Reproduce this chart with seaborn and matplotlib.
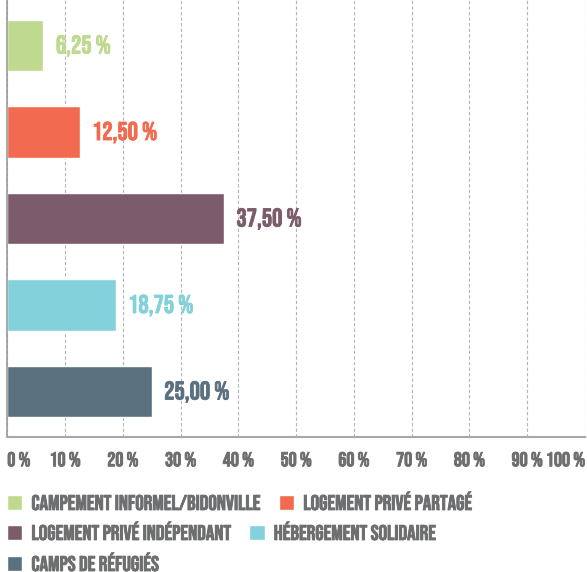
import seaborn as sns
import matplotlib.pyplot as plt
import matplotlib.patheffects as pe
from matplotlib.patches import Patch

categories = ['CAMPEMENT INFORMEL/BIDONVILLE', 'LOGEMENT PRIVÉ PARTAGÉ',
              'LOGEMENT PRIVÉ INDÉPENDANT', 'HÉBERGEMENT SOLIDAIRE',
              'CAMPS DE RÉFUGIÉS']
values = [6.25, 12.50, 37.50, 18.75, 25.00]
colors = ['#bfd98f', '#f26a4f', '#7c5c6b', '#82d1db', '#5b7180']
ticks = list(range(0, 101, 10))

sns.set_style('white')
plt.rcParams['font.family'] = ['Bebas Neue', 'DejaVu Sans']
grey = '#6d6e70'

def thicken(t, col):
    # Bebas is a bit lighter than the original font
    t.set_path_effects([pe.Stroke(linewidth=0.6, foreground=col), pe.Normal()])

fig = plt.figure(figsize=(5.87, 5.72), dpi=100)
ax = fig.add_axes([7.3 / 587, 1 - 437 / 572, (585 - 7.3) / 587, 437 / 572])

sns.barplot(x=values, y=categories, hue=categories, palette=colors,
            orient='h', width=0.59, legend=False, ax=ax, saturation=1)

ax.set_xlim(0, 100)
ax.set_ylim(4.526, -0.526)
ax.set_xticks(ticks)
ax.set_xticklabels([f'{t} %' for t in ticks], fontsize=14.5, color=grey)
labs = ax.get_xticklabels()
labs[0].set_ha('left')
labs[-1].set_ha('right')
for t in labs:
    thicken(t, grey)
ax.tick_params(axis='x', length=0, pad=11)
ax.set_yticks([])
ax.set_xlabel('')
ax.set_ylabel('')
ax.grid(axis='x', color='#b5b5b5', linestyle=(0, (3, 2)), linewidth=0.8)
ax.set_axisbelow(True)
for s in ['top', 'right']:
    ax.spines[s].set_visible(False)
ax.spines['left'].set_color('#9a9a9a')
ax.spines['bottom'].set_color('#a8a8a8')
ax.spines['left'].set_linewidth(1.2)
ax.spines['bottom'].set_linewidth(1.5)

for cont, col in zip(ax.containers, colors):
    txts = ax.bar_label(cont, labels=[f'{v:.2f}'.replace('.', ',') + ' %' for v in cont.datavalues],
                        padding=9, color=col, fontsize=18.5)
    for t in txts:
        thicken(t, col)

# flowing legend, one row at a time
rows = [[0, 1], [2, 3], [4]]
ys = [1 - 501 / 572, 1 - 531 / 572, 1 - 562 / 572]
for row, y in zip(rows, ys):
    handles = [Patch(facecolor=colors[i], label=categories[i]) for i in row]
    leg = fig.legend(handles=handles, loc='center left', bbox_to_anchor=(7 / 587, y),
                     ncol=len(row), frameon=False, fontsize=15.3, borderpad=0,
                     borderaxespad=0, handlelength=0.72, handleheight=0.72,
                     handletextpad=0.43, columnspacing=0.82)
    for t in leg.get_texts():
        t.set_color(grey)
        thicken(t, grey)

fig.savefig('out.png', dpi=100)
